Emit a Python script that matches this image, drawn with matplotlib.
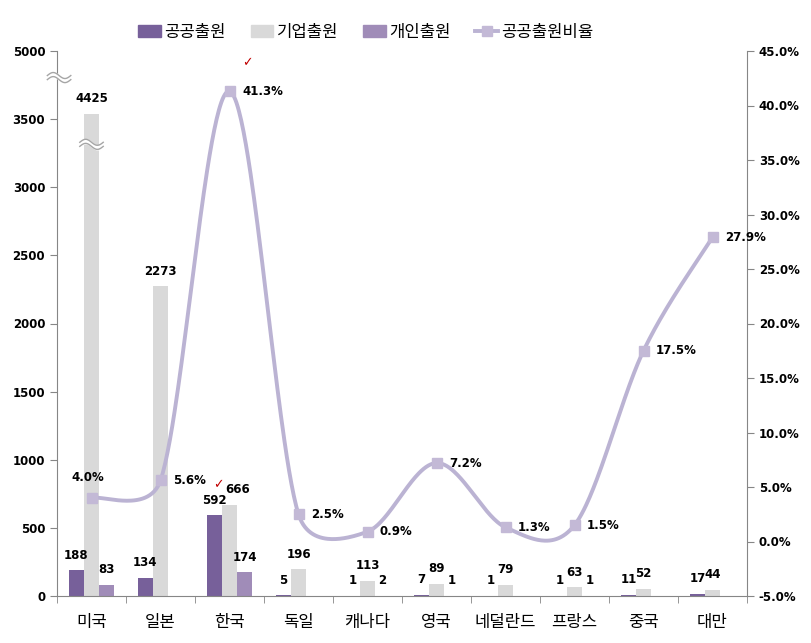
import numpy as np
import matplotlib
matplotlib.use('Agg')
import matplotlib.pyplot as plt
from matplotlib.patches import Patch
from matplotlib.lines import Line2D

plt.rcParams['font.family'] = ['DejaVu Sans', 'Noto Sans CJK KR']

countries = ['미국', '일본', '한국', '독일', '캐나다', '영국', '네덜란드', '프랑스', '중국', '대만']
public = [188, 134, 592, 5, 1, 7, 1, 1, 11, 17]
company = [4425, 2273, 666, 196, 113, 89, 79, 63, 52, 44]
personal = [83, None, 174, None, 2, 1, None, 1, None, None]
ratio = [4.0, 5.6, 41.3, 2.5, 0.9, 7.2, 1.3, 1.5, 17.5, 27.9]
series_names = ['공공출원', '기업출원', '개인출원', '공공출원비율']

c_public = '#77609a'
c_company = '#d9d9d9'
c_personal = '#a08cb8'
c_line = '#bbb3d3'
c_marker = '#c3b9d6'
axis_gray = '#868686'

# the left axis is broken: tall bars are cut off just above 3500
bar_cap = 3540
top_real = 5000

fig = plt.figure(figsize=(8.11, 6.43), dpi=100)
ax = fig.add_axes([57 / 811, 1 - 596 / 643, 690 / 811, 545 / 643])
ax2 = ax.twinx()

x = np.arange(len(countries))
w = 0.22
for vals, off, col in [(public, -w, c_public), (company, 0, c_company), (personal, w, c_personal)]:
    for i, (xi, v) in enumerate(zip(x, vals)):
        if v is None:
            continue
        h = min(v, bar_cap)
        ax.bar(xi + off, h, width=w, color=col, zorder=2)
        dx = 6 if (col == c_company and i == 2) else 0
        ax.annotate(str(v), (xi + off, h), xytext=(dx, 11), textcoords='offset points',
                    ha='center', va='center', fontsize=8.5, fontweight='bold', zorder=5)

ax.set_xlim(-0.5, len(countries) - 0.5)
ax.set_ylim(0, 4000)
ax.set_yticks([0, 500, 1000, 1500, 2000, 2500, 3000, 3500, 4000])
ax.set_yticklabels(['0', '500', '1000', '1500', '2000', '2500', '3000', '3500', str(top_real)],
                   fontsize=8.5, fontweight='bold')
ax.set_xticks(x)
ax.set_xticklabels(countries, fontsize=12, family='Noto Sans CJK KR')
ax.set_xticks(np.arange(-0.5, len(countries), 1), minor=True)
ax.tick_params(axis='x', which='major', length=0, pad=13)
ax.tick_params(axis='x', which='minor', length=5, color=axis_gray)
ax.tick_params(axis='y', length=5, color=axis_gray)

ax.spines['top'].set_visible(False)
ax.spines['right'].set_visible(False)
ax2.spines['top'].set_visible(False)
ax2.spines['left'].set_visible(False)
ax2.spines['bottom'].set_visible(False)
for a in (ax, ax2):
    for s in ['left', 'right', 'bottom']:
        a.spines[s].set_color(axis_gray)

ax2.set_ylim(-5, 45)
ax2.set_yticks(np.arange(-5, 46, 5))
ax2.set_yticklabels([f'{v:.1f}%' for v in np.arange(-5, 46, 5)], fontsize=8.5, fontweight='bold')
ax2.tick_params(axis='y', length=5, color=axis_gray)

# smooth ratio line, Excel-like Bezier smoothing computed in pixel space
trans = ax2.transData
pts = trans.transform(np.column_stack([x.astype(float), ratio]))
n = len(pts)
t = np.linspace(0, 1, 60)[:, None]
curve = []
for i in range(n - 1):
    p0 = pts[max(i - 1, 0)]
    p1 = pts[i]
    p2 = pts[i + 1]
    p3 = pts[min(i + 2, n - 1)]
    d12 = np.hypot(*(p2 - p1))
    tan1 = p2 - p0
    tan2 = p3 - p1
    l1 = np.hypot(*tan1)
    l2 = np.hypot(*tan2)
    b1 = p1 + tan1 / l1 * min(l1 / 6, d12 / 2)
    b2 = p2 - tan2 / l2 * min(l2 / 6, d12 / 2)
    seg = (1 - t) ** 3 * p1 + 3 * (1 - t) ** 2 * t * b1 + 3 * (1 - t) * t ** 2 * b2 + t ** 3 * p2
    curve.append(seg)
curve = trans.inverted().transform(np.vstack(curve))
ax2.plot(curve[:, 0], curve[:, 1], color=c_line, lw=2.8, zorder=3, solid_capstyle='round')
ax2.plot(x, ratio, 's', color=c_marker, ms=7, zorder=4)

for i, (xi, r) in enumerate(zip(x, ratio)):
    if i == 0:
        ax2.annotate(f'{r:.1f}%', (xi, r), xytext=(-3, 15), textcoords='offset points',
                     ha='center', va='center', fontsize=8.5, fontweight='bold')
    else:
        ax2.annotate(f'{r:.1f}%', (xi, r), xytext=(9, 0), textcoords='offset points',
                     ha='left', va='center', fontsize=8.5, fontweight='bold')

# check marks
ax2.annotate('✓', (2, ratio[2]), xytext=(13, 21), textcoords='offset points',
             ha='center', va='center', fontsize=9, color='#c00000')
ax.annotate('✓', (2, company[2]), xytext=(-8, 15), textcoords='offset points',
            ha='center', va='center', fontsize=9, color='#c00000')


# break marks (double wavy lines)
def wave(xc, yc, half_w):
    xs = np.linspace(xc - half_w, xc + half_w, 40)
    ph = (xs - xs[0]) / (2 * half_w) * 2 * np.pi
    y1 = yc + 22 * np.sin(ph)
    y2 = y1 - 30
    ax.fill_between(xs, y1, y2, color='white', zorder=6, clip_on=False)
    ax.plot(xs, y1, color='#a6a6a6', lw=1, zorder=7, clip_on=False)
    ax.plot(xs, y2, color='#a6a6a6', lw=1, zorder=7, clip_on=False)


wave(-0.5 + 0.03, 3820, 0.17)
wave(0, 3330, 0.17)

handles = [Patch(color=c_public), Patch(color=c_company), Patch(color=c_personal),
           Line2D([0], [0], color=c_line, lw=2.8, marker='s', ms=7, markerfacecolor=c_marker,
                  markeredgecolor=c_marker)]
fig.legend(handles, series_names, loc='center', bbox_to_anchor=(366 / 811, 1 - 32 / 643),
           ncol=4, frameon=False, handlelength=1.35, handletextpad=0.2,
           columnspacing=1.5, prop={'family': 'Noto Sans CJK KR', 'size': 12})

fig.savefig('out.png', dpi=100)
